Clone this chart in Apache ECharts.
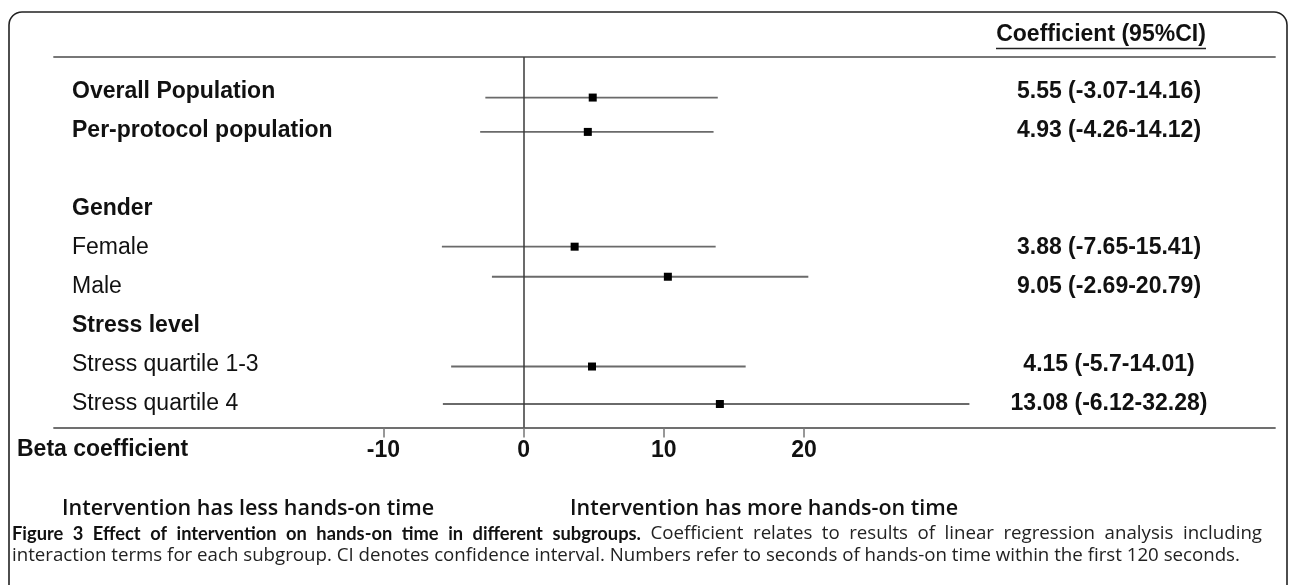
<!DOCTYPE html>
<html>
<head>
<meta charset="utf-8">
<script src="https://cdn.jsdelivr.net/npm/echarts@6/dist/echarts.min.js"></script>
<style>
html,body{margin:0;padding:0;background:#fff;}
#chart{width:1290px;height:585px;}
</style>
</head>
<body>
<div id="chart"></div>
<script>
// ---- data ----
const rows = ['Overall Population', 'Per-protocol population', '', 'Gender', 'Female', 'Male', 'Stress level', 'Stress quartile 1-3', 'Stress quartile 4'];
const rowBold = [true, true, false, true, false, false, true, false, false];
const coefText = ['5.55 (-3.07-14.16)', '4.93 (-4.26-14.12)', '', '', '3.88 (-7.65-15.41)', '9.05 (-2.69-20.79)', '', '4.15 (-5.7-14.01)', '13.08 (-6.12-32.28)'];
// plotted marks: estimate, CI bounds and the row position of each bar
const estimate = [4.93, 4.58, null, null, 3.64, 10.29, null, 4.88, 14.0];
const ciLow = [-2.73, -3.1, null, null, -5.83, -2.26, null, -5.17, -5.76];
const ciHigh = [13.85, 13.55, null, null, 13.7, 20.31, null, 15.84, 31.8];
const markRow = [0.15, 1.03, null, null, 3.97, 4.74, null, 7.04, 8.0];
const xTicks = [-10, 0, 10, 20];
const headerText = 'Coefficient (95%CI)';
const xAxisTitle = 'Beta coefficient';
const leftNote = 'Intervention has less hands-on time';
const rightNote = 'Intervention has more hands-on time';
const captionBold = 'Figure 3 Effect of intervention on hands-on time in different subgroups.';
const captionRest1 = 'Coefficient relates to results of linear regression analysis including';
const captionLine2 = 'interaction terms for each subgroup. CI denotes confidence interval. Numbers refer to seconds of hands-on time within the first 120 seconds.';

const rowIdx = rows.map((_, i) => i).filter(i => rows[i] !== '');
const coefIdx = rows.map((_, i) => i).filter(i => coefText[i] !== '');
const forestData = rows.map((_, i) => i).filter(i => estimate[i] !== null).map(i => [markRow[i], estimate[i], ciLow[i], ciHigh[i]]);

const FONT = '"Liberation Sans", Arial, sans-serif';
const CAP = '"Open Sans", sans-serif';
const CAPB = 'Lato, "Open Sans", sans-serif';
const FS = 23;

// justified caption line made of several runs (bold + regular)
const measure = document.createElement('canvas').getContext('2d');
function justifyLine(parts, x0, x1, y) {
  const words = [];
  parts.forEach(p => {
    measure.font = p.weight + ' ' + p.size + 'px ' + p.family;
    p.text.split(' ').forEach(w => words.push({w, width: measure.measureText(w).width, p}));
  });
  const total = words.reduce((s, o) => s + o.width, 0);
  const gap = (x1 - x0 - total) / (words.length - 1);
  let x = x0;
  return words.map(o => {
    const el = {type: 'text', x: x, y: y, z: 12, style: {text: o.w, fontFamily: o.p.family, fontWeight: o.p.weight, fontSize: o.p.size, fill: o.p.color, align: 'left', verticalAlign: 'middle'}};
    x += o.width + gap;
    return el;
  });
}

const chart = echarts.init(document.getElementById('chart'), null, {renderer: 'canvas'});

const yMin = -0.889, yMax = 8.602;
const yCommon = {
  type: 'value', inverse: true, min: yMin, max: yMax,
  axisLine: {show: false}, axisTick: {show: false}, splitLine: {show: false}
};

function build() {
  const cap1 = justifyLine([
    {text: captionBold, family: CAPB, weight: 'bold', size: 18.3, color: '#111'},
    {text: captionRest1, family: CAP, weight: 'normal', size: 18.7, color: '#222'}
  ], 12, 1262, 534);

  chart.setOption({
    animation: false,
    backgroundColor: '#ffffff',
    grid: {left: 54, right: 15, top: 57, bottom: 157.5, containLabel: false},
    xAxis: [{
      type: 'value', min: -33.5, max: 53.6, position: 'bottom',
      axisLine: {show: true, onZero: false, lineStyle: {color: '#707070', width: 1.8}},
      axisTick: {show: true, customValues: xTicks, length: 10, lineStyle: {color: '#777', width: 1.5}},
      axisLabel: {customValues: xTicks, fontFamily: FONT, fontWeight: 'bold', fontSize: FS, color: '#111', margin: 12},
      splitLine: {show: false}
    }, {
      type: 'value', min: -33.5, max: 53.6, position: 'top',
      axisLine: {show: true, onZero: false, lineStyle: {color: '#777', width: 1.8}},
      axisTick: {show: false}, axisLabel: {show: false}, splitLine: {show: false}
    }],
    yAxis: [Object.assign({}, yCommon, {
      position: 'left',
      axisLabel: {
        customValues: rowIdx, align: 'left', margin: -18,
        formatter: v => {
          const i = Math.round(v);
          return rowBold[i] ? '{b|' + rows[i] + '}' : '{n|' + rows[i] + '}';
        },
        rich: {
          b: {fontFamily: FONT, fontWeight: 'bold', fontSize: FS, color: '#111'},
          n: {fontFamily: FONT, fontWeight: 'normal', fontSize: FS, color: '#111'}
        }
      }
    }), Object.assign({}, yCommon, {
      position: 'right',
      axisLabel: {
        customValues: coefIdx, align: 'center', margin: -166,
        formatter: v => coefText[Math.round(v)],
        fontFamily: FONT, fontWeight: 'bold', fontSize: FS, color: '#111'
      }
    })],
    series: [{
      type: 'custom',
      xAxisIndex: 0, yAxisIndex: 0,
      data: forestData,
      encode: {x: [1, 2, 3], y: 0},
      renderItem: (params, api) => {
        const y = api.value(0);
        const p1 = api.coord([api.value(2), y]);
        const p2 = api.coord([api.value(3), y]);
        const pc = api.coord([api.value(1), y]);
        return {
          type: 'group',
          children: [
            {type: 'line', shape: {x1: p1[0], y1: p1[1], x2: p2[0], y2: p2[1]}, style: {stroke: '#6a6a6a', lineWidth: 1.8}},
            {type: 'rect', shape: {x: pc[0] - 4, y: pc[1] - 4, width: 8, height: 8}, style: {fill: '#000'}}
          ]
        };
      },
      markLine: {
        silent: true, symbol: 'none', label: {show: false},
        lineStyle: {color: '#3a3a3a', width: 1.5, type: 'solid'},
        data: [{xAxis: 0}]
      },
      z: 3
    }],
    graphic: [
      {type: 'rect', shape: {x: 9, y: 12, width: 1278, height: 700, r: 13}, style: {fill: 'none', stroke: '#222', lineWidth: 1.6}, silent: true},
      {type: 'text', x: 1101, y: 35, style: {text: headerText, fontFamily: FONT, fontWeight: 'bold', fontSize: FS, fill: '#111', align: 'center', verticalAlign: 'middle'}},
      {type: 'line', shape: {x1: 996, y1: 48.5, x2: 1206, y2: 48.5}, style: {stroke: '#222', lineWidth: 1.4}},
      {type: 'text', x: 17, y: 450, style: {text: xAxisTitle, fontFamily: FONT, fontWeight: 'bold', fontSize: FS, fill: '#111', align: 'left', verticalAlign: 'middle'}},
      {type: 'text', x: 62, y: 509, style: {text: leftNote, fontFamily: CAP, fontWeight: 600, fontSize: 21.5, fill: '#111', align: 'left', verticalAlign: 'middle'}},
      {type: 'text', x: 570, y: 509, style: {text: rightNote, fontFamily: CAP, fontWeight: 600, fontSize: 21.5, fill: '#111', align: 'left', verticalAlign: 'middle'}},
      ...cap1,
      {type: 'text', x: 12, y: 556, z: 12, style: {text: captionLine2, fontFamily: CAP, fontWeight: 'normal', fontSize: 18.7, fill: '#222', align: 'left', verticalAlign: 'middle'}}
    ]
  });
}
if (document.fonts && document.fonts.load) {
  Promise.all([
    document.fonts.load('bold 18px Lato'),
    document.fonts.load('18px "Open Sans"'),
    document.fonts.load('600 18px "Open Sans"'),
    document.fonts.load('bold 18px "Liberation Sans"')
  ]).then(build, build);
} else {
  build();
}
</script>
</body>
</html>
